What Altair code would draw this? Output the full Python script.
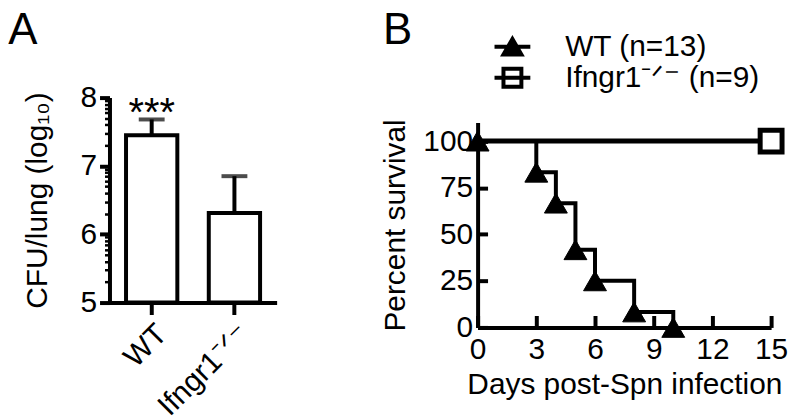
import altair as alt
import numpy as np
import pandas as pd

# ---------------- data ----------------
# Panel A: lung CFU (log10), mean and upper error
groups_a = ["WT", "Ifngr1\u207b\u141f\u207b"]
cfu_mean = [7.45, 6.31]
cfu_upper = [7.68, 6.85]
sig_marks = ["***", ""]
cfu_floor = 5

# Panel B: survival (percent)
series = ["WT (n=13)", "Ifngr1\u207b\u141f\u207b (n=9)"]
wt_days = [0, 3, 4, 5, 6, 8, 10]
wt_surv = [100, 83.3, 66.7, 41.7, 25.0, 8.3, 0]
ko_days = [0, 15]
ko_surv = [100, 100]
ko_marker_days = [15]
ko_marker_surv = [100]

# axis ticks
a_major = [5, 6, 7, 8]
a_ticks = sorted(a_major + [d + float(np.log10(k)) for d in [5, 6, 7] for k in range(2, 10)])
b_xticks = [0, 3, 6, 9, 12, 15]
b_yticks = [0, 25, 50, 75, 100]

FONT = "Liberation Sans"
is_major = "abs(datum.value - round(datum.value)) < 0.001"

# ---------------- panel A ----------------
df_a = pd.DataFrame({"group": groups_a, "mean": cfu_mean, "upper": cfu_upper, "sig": sig_marks})

xA = alt.X("group:N", sort=groups_a,
           scale=alt.Scale(paddingInner=0.38, paddingOuter=0.2),
           axis=alt.Axis(title=None, labelAngle=-45, tickSize=12, labelPadding=4,
                         labelFontSize=30, labelLimit=400))
yA_scale = alt.Scale(domain=[5, 8], nice=False, zero=False)
yA_axis = alt.Axis(values=a_ticks, title="CFU/lung (log\u2081\u2080)",
                   labelExpr=f"{is_major} ? format(datum.value, 'd') : ''",
                   labelOverlap=False, labelFlush=False,
                   tickSize={"condition": {"test": is_major, "value": 10}, "value": 5},
                   tickWidth={"condition": {"test": is_major, "value": 4}, "value": 2.5},
                   labelPadding=3, titlePadding=28)

bars = alt.Chart(df_a).mark_bar(fill="white", stroke="black", strokeWidth=4).encode(
    x=xA, y=alt.Y("mean:Q", scale=yA_scale, axis=yA_axis), y2=alt.datum(cfu_floor))
err = alt.Chart(df_a).mark_rule(color="black", strokeWidth=4).encode(
    x=xA, y=alt.Y("mean:Q", scale=yA_scale, axis=yA_axis), y2="upper:Q")
cap = alt.Chart(df_a).mark_tick(color="black", thickness=4, size=26).encode(
    x=xA, y=alt.Y("upper:Q", scale=yA_scale, axis=yA_axis))
stars = alt.Chart(df_a).mark_text(fontSize=40, baseline="alphabetic", dy=7, color="black").encode(
    x=xA, y=alt.Y("upper:Q", scale=yA_scale, axis=yA_axis), text="sig:N")

panel_a = alt.layer(bars, err, cap, stars).properties(
    width=168, height=206,
    title=alt.Title("A", anchor="start", fontSize=44, fontWeight="normal", dx=-14, offset=30,
                    color="black"))

# ---------------- panel B ----------------
df_wt = pd.DataFrame({"day": wt_days, "surv": wt_surv, "series": series[0]})
df_ko = pd.DataFrame({"day": ko_days, "surv": ko_surv, "series": series[1]})
df_kom = pd.DataFrame({"day": ko_marker_days, "surv": ko_marker_surv, "series": series[1]})

xB = alt.X("day:Q", scale=alt.Scale(domain=[0, 15], nice=False),
           axis=alt.Axis(values=b_xticks, title="Days post-Spn infection",
                         tickSize={"expr": "-12"}, labelPadding=19, labelFlush=False,
                         titlePadding=5))
yB_scale = alt.Scale(domain=[0, 110], range=[231, 25], nice=False)
yB = alt.Y("surv:Q", scale=yB_scale,
           axis=alt.Axis(values=b_yticks, title="Percent survival",
                         tickSize={"expr": "-10"}, labelPadding=15, labelFlush=False,
                         titlePadding=12))

wt_path = "M-1.5,0H1.5M0,-0.65L0.75,0.65L-0.75,0.65Z"
ko_path = "M-1.5,0H1.5M-0.75,-0.75H0.75V0.75H-0.75Z"
leg_common = dict(title=None, orient="none", legendX=20, padding=0,
                  labelFontSize=30, labelColor="black", labelLimit=400, labelOffset=38,
                  symbolSize=576, symbolStrokeWidth=4, symbolStrokeColor="black",
                  symbolOpacity=1)

wt_fill = alt.Fill("series:N", scale=alt.Scale(domain=[series[0]], range=["black"]),
                   legend=alt.Legend(legendY=-66, symbolType=wt_path, **leg_common))
ko_stroke = alt.Stroke("series:N", scale=alt.Scale(domain=[series[1]], range=["black"]),
                       legend=alt.Legend(legendY=-35, symbolType=ko_path,
                                         symbolFillColor="white", **leg_common))

ko_line = alt.Chart(df_ko).mark_line(color="black", strokeWidth=5).encode(x=xB, y=yB)
wt_line = alt.Chart(df_wt).mark_line(color="black", strokeWidth=4, interpolate="step-after").encode(
    x=xB, y=yB)
wt_pts = alt.Chart(df_wt).mark_point(filled=True, shape="triangle-up", stroke="black",
                                     strokeWidth=1, size=529, opacity=1).encode(
    x=xB, y=yB, fill=wt_fill)
ko_pts = alt.Chart(df_kom).mark_point(filled=True, shape="square", fill="white", strokeWidth=5,
                                      size=484, opacity=1).encode(x=xB, y=yB, stroke=ko_stroke)

panel_b = alt.layer(ko_line, wt_line, wt_pts, ko_pts).properties(
    width=295, height=231,
    title=alt.Title("B", anchor="start", fontSize=44, fontWeight="normal", dx=2, dy=21, offset=0,
                    color="black"))

chart = alt.hconcat(panel_a, panel_b, spacing=104).resolve_scale(
    fill="independent", stroke="independent"
).properties(
    padding={"left": 0, "top": 0, "right": 0, "bottom": 0}
).configure(font=FONT).configure_view(stroke=None).configure_axis(
    grid=False, domainColor="black", tickColor="black", labelColor="black", titleColor="black",
    labelFontSize=30, titleFontSize=30, titleFontWeight="normal", domainWidth=4, tickWidth=4,
    labelFont=FONT, titleFont=FONT
).configure_legend(labelFont=FONT)

chart.save("out.html", embed_options={"renderer": "svg", "actions": False})
